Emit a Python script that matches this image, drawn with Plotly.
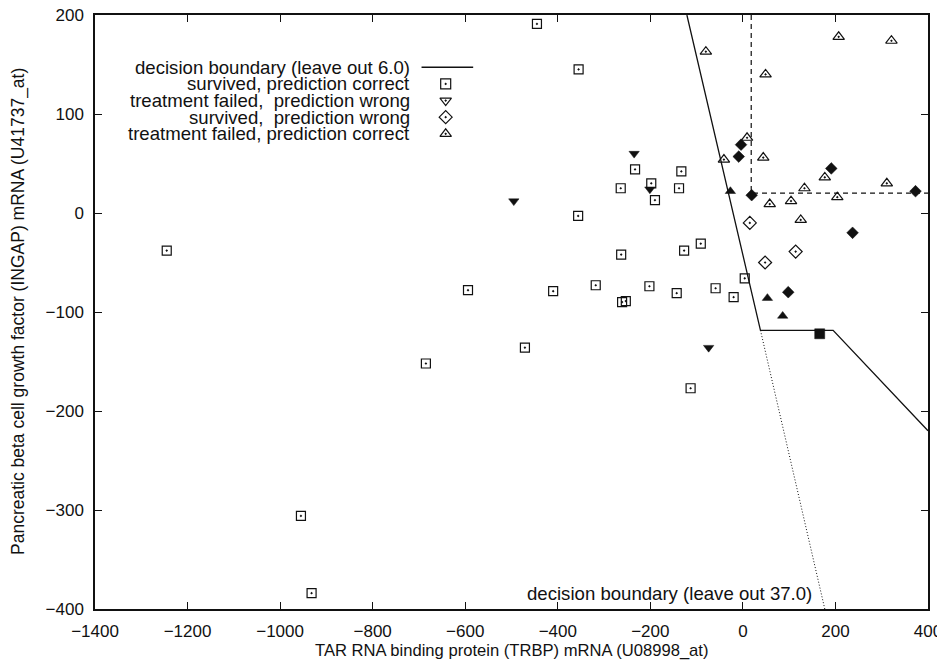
import plotly.graph_objects as go

# ---------------- data ----------------
sq_x = [-445, -355, -1245, -594, -685, -955, -932, -263, -410, -318, -202, -143,
        -261, -253, -471, -233, -133, -198, -264, -138, -190, -356, -91, -127,
        4, -59, -20, -113]
sq_y = [191, 145, -38, -78, -152, -306, -384, -42, -79, -73, -74, -81,
        -90, -89, -136, 44, 42, 30, 25, 25, 13, -3, -31, -38,
        -66, -76, -85, -177]

tri_open_x = [-80, 207, 321, 49, 9, -41, 44, 177, 311, 133, 204, 58, 104, 125]
tri_open_y = [163, 178, 174, 140, 76, 54, 56, 36, 30, 25, 16, 9, 12, -7]

dia_open_x = [15, 114, 48]
dia_open_y = [-10, -39, -50]

tdown_fill_x = [-235, -201, -495, -74]
tdown_fill_y = [60, 24, 12, -136]

dia_fill_x = [-4, -9, 19, 191, 373, 237, 98]
dia_fill_y = [69, 57, 18, 45, 22, -20, -80]

tup_fill_x = [-27, 53, 86]
tup_fill_y = [22, -86, -104]

sq_fill_x = [166]
sq_fill_y = [-122]

bound6_x = [-121, 38, 195, 400]
bound6_y = [200, -118.5, -118.5, -220]

bound37_x = [38, 177]
bound37_y = [-118.5, -400]

dash_x = [18, 18, 400]
dash_y = [200, 20, 20]

x_ticks = [-1400, -1200, -1000, -800, -600, -400, -200, 0, 200, 400]
y_ticks = [-400, -300, -200, -100, 0, 100, 200]

legend_labels = ["decision boundary (leave out 6.0)",
                 "survived, prediction correct",
                 "treatment failed,  prediction wrong",
                 "survived,  prediction wrong",
                 "treatment failed, prediction correct"]

# ---------------- style ----------------
FONT = "Liberation Sans, Arial, Helvetica, sans-serif"
FS_TICK = 17
FS_TEXT = 18.6
FS_XT = 16.6
FS_YT = 17.5
INK = "#111111"

fig = go.Figure()

fig.add_trace(go.Scatter(x=bound6_x, y=bound6_y, mode="lines",
                         line=dict(color=INK, width=1.3), hoverinfo="skip"))
fig.add_trace(go.Scatter(x=bound37_x, y=bound37_y, mode="lines",
                         line=dict(color=INK, width=1, dash="1px,2px"), hoverinfo="skip"))
fig.add_trace(go.Scatter(x=dash_x, y=dash_y, mode="lines",
                         line=dict(color=INK, width=1.2, dash="5px,4px"), hoverinfo="skip"))

def pts(x, y, sym, size=9, lw=1.2):
    fig.add_trace(go.Scatter(x=x, y=y, mode="markers",
                             marker=dict(symbol=sym, size=size, color=INK,
                                         line=dict(color=INK, width=lw))))

pts(sq_x, sq_y, "square-open-dot", 9)
pts(tri_open_x, tri_open_y, "triangle-up-open-dot", 10)
pts(dia_open_x, dia_open_y, "diamond-open-dot", 10)
pts(tdown_fill_x, tdown_fill_y, "triangle-down", 9, 0.5)
pts(dia_fill_x, dia_fill_y, "diamond", 9, 0.5)
pts(tup_fill_x, tup_fill_y, "triangle-up", 9, 0.5)
pts(sq_fill_x, sq_fill_y, "square", 10, 0.5)

# ---------------- hand-made legend (text left of key, like gnuplot) ----------------
leg_rows = [0.912, 0.884, 0.856, 0.828, 0.800]   # paper y of rows
leg_text_x = 0.380
leg_key_x = 0.421
leg_line = (0.392, 0.454)
leg_syms = ["square-open-dot", "triangle-down-open-dot", "diamond-open-dot", "triangle-up-open-dot"]

for lab, yy in zip(legend_labels, leg_rows):
    fig.add_annotation(xref="paper", yref="paper", x=leg_text_x, y=yy, text=lab,
                       showarrow=False, xanchor="right", yanchor="middle",
                       font=dict(family=FONT, size=FS_TEXT, color=INK))
fig.add_shape(type="line", xref="paper", yref="paper",
              x0=leg_line[0], x1=leg_line[1], y0=leg_rows[0], y1=leg_rows[0],
              line=dict(color=INK, width=1.3))
fig.add_trace(go.Scatter(x=[leg_key_x] * 4, y=leg_rows[1:], mode="markers",
                         xaxis="x2", yaxis="y2",
                         marker=dict(symbol=leg_syms, size=10, color=INK,
                                     line=dict(color=INK, width=1.2)),
                         hoverinfo="skip"))

fig.add_annotation(x=153, y=-384, text="decision boundary (leave out 37.0)",
                   showarrow=False, xanchor="right", yanchor="middle",
                   font=dict(family=FONT, size=FS_TEXT, color=INK))

# axis titles
fig.add_annotation(xref="paper", yref="paper", x=0.5, y=0, yshift=-30,
                   text="TAR RNA binding protein (TRBP) mRNA (U08998_at)",
                   showarrow=False, xanchor="center", yanchor="top",
                   font=dict(family=FONT, size=FS_XT, color=INK))
fig.add_annotation(xref="paper", yref="paper", x=0, y=0.5, xshift=-77,
                   text="Pancreatic beta cell growth factor (INGAP) mRNA (U41737_at)",
                   textangle=-90, showarrow=False, xanchor="center", yanchor="middle",
                   font=dict(family=FONT, size=FS_YT, color=INK))

axis_common = dict(showgrid=False, zeroline=False, showline=True, linecolor=INK,
                   linewidth=1.5, mirror="ticks", ticks="inside", ticklen=7,
                   tickwidth=1.2, tickcolor=INK, automargin=False,
                   ticklabeloverflow="allow",
                   tickfont=dict(family=FONT, size=FS_TICK, color=INK))

# the page body has an 8px margin, so the figure is sized/offset to compensate
fig.update_layout(
    width=937, height=658,
    margin=dict(l=87, r=17, t=7, b=57, autoexpand=False),
    paper_bgcolor="white", plot_bgcolor="white",
    showlegend=False,
    xaxis=dict(range=[-1400, 400], tickvals=x_ticks, ticklabelstandoff=6, **axis_common),
    yaxis=dict(range=[-400, 200], tickvals=y_ticks, ticklabelstandoff=6, **axis_common),
    xaxis2=dict(range=[0, 1], overlaying="x", visible=False),
    yaxis2=dict(range=[0, 1], overlaying="y", visible=False),
)

fig.write_html("out.html")
